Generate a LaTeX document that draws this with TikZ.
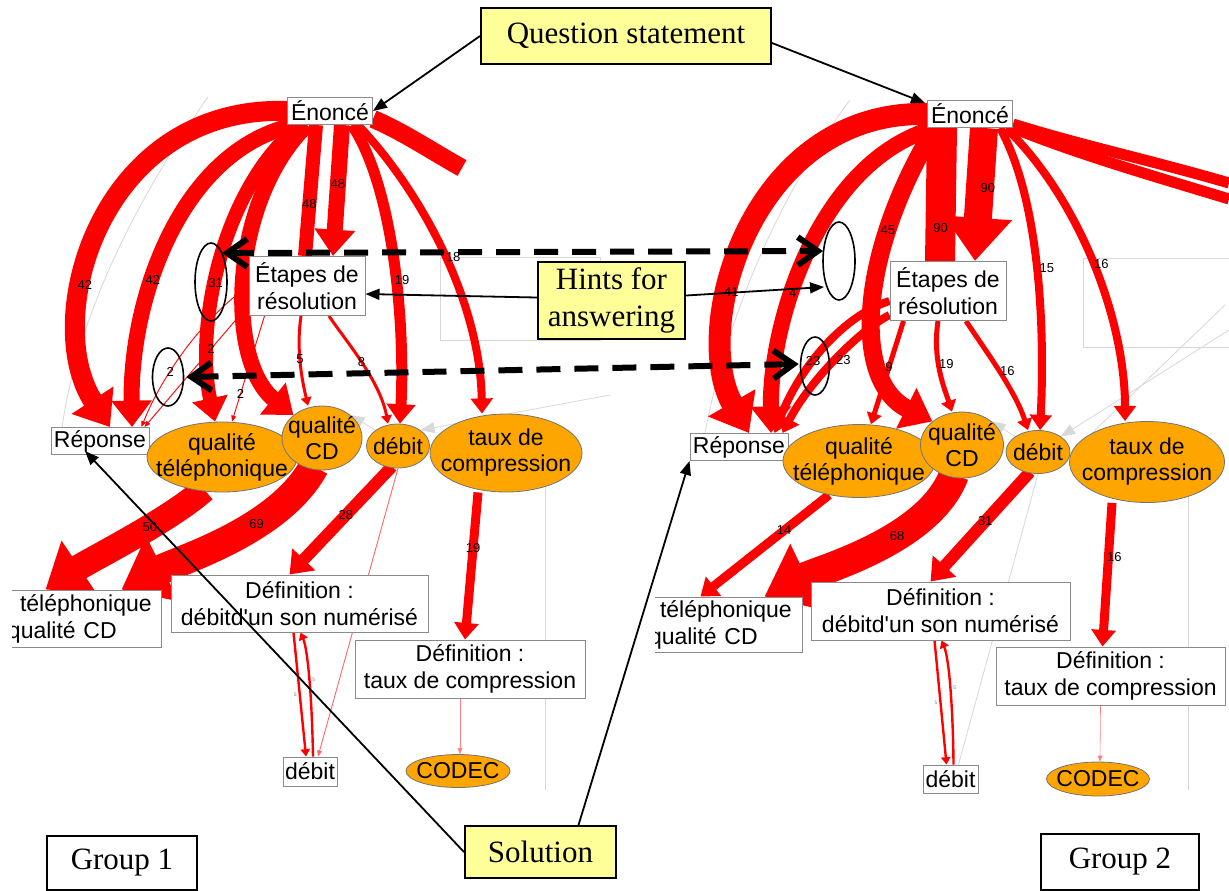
\documentclass[tikz,border=0pt]{standalone}
\usepackage{fontspec}
\setmainfont{Liberation Serif}
\setsansfont{Liberation Sans}
\usepackage{xcolor}
\definecolor{hintyellow}{HTML}{FFFF99}
\definecolor{conceptorange}{HTML}{FFA500}
\definecolor{flowred}{HTML}{FF0000}
\definecolor{boxgray}{HTML}{8A8A8A}
\definecolor{ghost}{HTML}{D8D8D8}
\usetikzlibrary{arrows.meta,positioning,calc,shapes.geometric,backgrounds}
\tikzset{
  >={Triangle[length=7pt,width=5.5pt]},
  box/.style     ={draw=boxgray,fill=white,line width=0.5pt,inner sep=1pt,
                   font=\sffamily\fontsize{11.5}{13.5}\selectfont,align=center},
  concept/.style ={ellipse,draw=black!55,fill=conceptorange,line width=0.4pt,
                   inner xsep=0pt,inner ysep=-1pt,
                   font=\sffamily\fontsize{11.5}{13}\selectfont,align=center},
  callout/.style ={draw=black,fill=hintyellow,line width=1pt,inner sep=2pt,
                   font=\fontsize{15.5}{18.5}\selectfont,align=center},
  groupbox/.style={draw=black,fill=white,line width=1pt,
                   font=\fontsize{15.5}{18.5}\selectfont},
  ring/.style    ={ellipse,draw=black,line width=0.8pt,inner sep=0pt},
  lbl/.style     ={font=\sffamily\fontsize{6.5}{6.5}\selectfont,inner sep=0.5pt},
  lbltiny/.style ={font=\sffamily\fontsize{2.5}{3}\selectfont,text=gray,inner sep=0pt},
  flow/.style    ={draw=flowred,line width=#1,-{Triangle[length=2pt 1.4,width=2pt 2.2]}},
  trail/.style   ={draw=flowred,line width=#1},
  weak/.style    ={draw=flowred,line width=0.45pt,-{Triangle[length=3pt,width=2.4pt]}},
  ghostline/.style={draw=ghost,line width=0.4pt},
  pointer/.style ={->,draw=black,line width=0.9pt},
  jump/.style    ={{Straight Barb[length=10pt,width=14pt]}-{Straight Barb[length=10pt,width=14pt]},
                   draw=black,line width=3pt,dash pattern=on 12pt off 7pt},
}
\newcommand{\tight}[1]{\makebox[0pt]{#1}}

\begin{document}
\begin{tikzpicture}[x=0.5pt,y=-0.5pt]
\useasboundingbox (0,0) rectangle (1229,890);
\begin{scope}[on background layer]
  \fill[white] (0,0) rectangle (1229,890);
\end{scope}

% group 1
\node[box,minimum width=42.5pt,minimum height=13.5pt] (enoA) at (330,111) {Énoncé};
\node[box,minimum width=58pt,minimum height=29.5pt] (etaA) at (307,286) {Étapes de\\résolution};
\node[box,minimum width=49pt,minimum height=13.5pt] (repA) at (100,441) {Réponse};
\node[concept,minimum width=75pt,minimum height=35pt] (qtA) at (222,457) {\tight{qualité}\\\tight{téléphonique}};
\node[concept,minimum width=40pt,minimum height=32pt] (qcA) at (322,438) {\tight{qualité}\\\tight{CD}};
\node[concept,minimum width=31.5pt,minimum height=22pt] (dbA) at (398,446) {\tight{débit}};
\node[concept,minimum width=76pt,minimum height=39pt] (txA) at (506,453) {\tight{taux de}\\\tight{compression}};
\begin{scope}
  \clip (12,580) rectangle (175,660);
  \node[box,align=left,inner xsep=3pt,text width=73.5pt,minimum height=28.5pt] (tcA) at (81.5,618.5)
    {\hspace*{6pt}téléphonique\\qualité CD};
\end{scope}
\node[box,minimum width=128.5pt,minimum height=28.5pt] (ddA) at (299.5,603.5) {Définition :\\débitd\textquotesingle un son numérisé};
\node[box,minimum width=115pt,minimum height=29pt] (dtA) at (470,669) {Définition :\\taux de compression};
\node[box,minimum width=27pt,minimum height=14.5pt] (dbbA) at (310,771.5) {débit};
\node[concept,minimum width=52pt,minimum height=16.5pt] (codA) at (458,771) {\tight{CODEC}};
\coordinate (offA) at (462,168);

% group 2
\node[box,minimum width=42.5pt,minimum height=13.5pt] (enoB) at (970,114) {Énoncé};
\node[box,minimum width=58pt,minimum height=29.5pt] (etaB) at (948,291) {Étapes de\\résolution};
\node[box,minimum width=49pt,minimum height=13.5pt] (repB) at (739,447) {Réponse};
\node[concept,minimum width=76pt,minimum height=36.5pt] (qtB) at (859,461) {\tight{qualité}\\\tight{téléphonique}};
\node[concept,minimum width=41.5pt,minimum height=33pt] (qcB) at (962,445) {\tight{qualité}\\\tight{CD}};
\node[concept,minimum width=32pt,minimum height=21.5pt] (dbB) at (1038,452) {\tight{débit}};
\node[concept,minimum width=77.5pt,minimum height=40.5pt] (txB) at (1147,462) {\tight{taux de}\\\tight{compression}};
\begin{scope}
  \clip (655,580) rectangle (812,665);
  \node[box,align=left,inner xsep=3pt,text width=73.5pt,minimum height=27.5pt] (tcB) at (722.5,624.5)
    {\hspace*{5.5pt}téléphonique\\qualité CD};
\end{scope}
\node[box,minimum width=129.5pt,minimum height=29pt] (ddB) at (940.5,611) {Définition :\\débitd\textquotesingle un son numérisé};
\node[box,minimum width=114.5pt,minimum height=29pt] (dtB) at (1110.5,676) {Définition :\\taux de compression};
\node[box,minimum width=27.5pt,minimum height=14pt] (dbbB) at (950.5,779) {débit};
\node[concept,minimum width=51.5pt,minimum height=17pt] (codB) at (1098,779) {\tight{CODEC}};
\coordinate (offB1) at (1229,183);
\coordinate (offB2) at (1229,199);

\begin{scope}[on background layer]
  % faint traces
  \draw[ghostline] (208,97) .. controls (150,180) and (80,300) .. (62,428);
  \draw[ghostline] (440,257) rectangle (600,340);
  \draw[ghostline] (545,478) -- (545,790);
  \draw[ghostline,->] (610,395) -- (dbA.north east);
  \draw[ghostline,->] (dbA.north west) -- (qcA.north east);
  \draw[ghostline,->] (qcA.west) -- (qtA.north east);
  \draw[ghostline] (850,100) .. controls (790,180) and (730,300) .. (705,433);
  \draw[ghostline] (1083,258) rectangle (1229,347);
  \draw[ghostline] (1188,480) -- (1188,790);
  \draw[ghostline] (1225,305) -- (txB.north west);
  \draw[ghostline,->] (1229,330) -- (dbB.north east);
  \draw[ghostline,->] (dbB.north west) -- (qcB.north east);
  \draw[ghostline,->] (qcB.west) -- (qtB.north east);

  % group 1 flows
  \draw[flow=10pt] (enoA.west) .. controls (100,105) and (40,320) .. ($(repA.north)+(10,0)$)
    node[lbl,pos=.64]{42};
  \draw[flow=8pt] ($(enoA.south west)+(8,0)$) .. controls (180,150) and (130,300) .. ($(repA.north)+(32,0)$)
    node[lbl,pos=.62]{42};
  \draw[flow=7pt] ($(enoA.south west)+(13,0)$) .. controls (220,190) and (195,330) .. ($(qtA.north)+(-7,0)$)
    node[lbl,pos=.56]{31};
  \draw[flow=8pt] ($(enoA.south west)+(20,0)$) .. controls (230,200) and (225,360) .. (qcA.north west);
  \draw[trail=7pt] ($(enoA.south)+(-14,0)$) -- ($(etaA.north)+(-2,0)$) node[lbl,pos=.6]{48};
  \draw[flow=8pt] ($(enoA.south)+(12,0)$) -- ($(etaA.north)+(26,0)$) node[lbl,pos=.45]{48};
  \draw[flow=5.5pt] ($(enoA.south)+(22,0)$) .. controls (395,190) and (405,330) .. ($(dbA.north)+(2,0)$)
    node[lbl,pos=.55,xshift=3pt]{19};
  \draw[flow=4pt] ($(enoA.south)+(28,0)$) .. controls (420,190) and (480,300) .. ($(txA.north)+(-24,0)$)
    node[lbl,pos=.52,xshift=4pt]{18};
  \draw[trail=9pt] ($(enoA.east)+(0,8)$) .. controls (400,130) and (430,150) .. (offA);
  \draw[weak] ($(etaA.west)+(0,19)$) -- ($(repA.north east)+(-5,0)$) node[lbl,pos=.36]{2};
  \draw[weak] (etaA.west) .. controls (200,320) and (160,380) .. ($(repA.north east)+(-8,0)$)
    node[lbl,pos=.63]{2};
  \draw[weak] ($(etaA.south west)+(16,0)$) -- ($(qtA.north)+(10,0)$) node[lbl,pos=.74]{2};
  \draw[flow=1.5pt] ($(etaA.south)+(-6,0)$) .. controls (296,350) and (302,380) .. ($(qcA.north)+(-14,0)$)
    node[lbl,pos=.45]{5};
  \draw[flow=1.5pt] ($(etaA.south)+(22,0)$) .. controls (345,340) and (380,380) .. ($(dbA.north)+(-10,0)$)
    node[lbl,pos=.5]{8};
  \draw[flow=13pt] ($(qtA.south)+(-18,-3)$) .. controls (170,520) and (90,560) .. ($(tcA.north)+(-36,0)$)
    node[lbl,pos=.38]{50};
  \draw[flow=15pt] ($(qcA.south)+(-8,-4)$) .. controls (280,530) and (180,560) .. ($(tcA.north)+(40,0)$)
    node[lbl,pos=.36]{69};
  \draw[flow=6pt] ($(dbA.south)+(-6,-2)$) -- ($(ddA.north)+(-10,0)$) node[lbl,pos=.45]{28};
  \draw[weak,draw=flowred!60] (dbA.south) -- ($(dbbA.north)+(8,0)$);
  \draw[flow=4.5pt] ($(txA.south)+(-28,0)$) -- ($(dtA.north)+(-5,0)$) node[lbl,pos=.38]{19};
  \draw[flow=1.2pt] ($(ddA.south)+(-6,0)$) -- ($(dbbA.north)+(-4,0)$) node[lbltiny,pos=.5,left=1pt]{5};
  \draw[flow=1.2pt] ($(dbbA.north)+(3,0)$) .. controls (312,700) and (308,650) .. ($(ddA.south)+(1,0)$)
    node[lbltiny,pos=.5,right=1pt]{5};
  \draw[weak,draw=flowred!50,line width=0.3pt] ($(dtA.south)+(-10,0)$) -- ($(codA.north)+(2,0)$);

  % group 2 flows
  \draw[flow=11pt] (enoB.west) .. controls (750,110) and (690,330) .. ($(repB.north)+(10,0)$)
    node[lbl,pos=.64]{41};
  \draw[flow=8pt] ($(enoB.south west)+(8,0)$) .. controls (820,160) and (770,320) .. ($(repB.north)+(32,0)$)
    node[lbl,pos=.62]{4};
  \draw[flow=4pt] ($(etaB.west)+(0,10)$) .. controls (845,315) and (800,365) .. ($(repB.north east)+(-14,0)$)
    node[lbl,pos=.6]{23};
  \draw[flow=4pt] ($(etaB.west)+(0,24)$) .. controls (860,330) and (810,380) .. ($(repB.north east)+(-6,0)$)
    node[lbl,pos=.5,xshift=4pt]{23};
  \draw[flow=9pt] ($(enoB.south)+(-35,0)$) .. controls (860,250) and (850,380) .. (qcB.north west)
    node[lbl,pos=.28]{45};
  \draw[trail=15pt] ($(enoB.south)+(-28,0)$) -- ($(etaB.north)+(-8,0)$) node[lbl,pos=.75]{90};
  \draw[flow=14pt] ($(enoB.south)+(14,0)$) -- ($(etaB.north)+(27,0)$) node[lbl,pos=.45,xshift=4pt]{90};
  \draw[flow=4pt] ($(enoB.south)+(30,0)$) .. controls (1040,200) and (1045,330) .. ($(dbB.north)+(2,0)$)
    node[lbl,pos=.5,xshift=5pt]{15};
  \draw[flow=4pt] ($(enoB.south)+(36,0)$) .. controls (1080,200) and (1125,320) .. ($(txB.north)+(-22,0)$)
    node[lbl,pos=.5,xshift=4pt]{16};
  \draw[trail=5.5pt] ($(enoB.east)+(0,10)$) .. controls (1080,145) and (1150,160) .. (offB1);
  \draw[trail=5.5pt] ($(enoB.east)+(0,14)$) .. controls (1080,155) and (1150,175) .. (offB2);
  \draw[flow=2.5pt] ($(etaB.south west)+(14,0)$) -- ($(qtB.north)+(12,0)$) node[lbl,pos=.45]{9};
  \draw[flow=2.5pt] ($(etaB.south)+(-10,0)$) .. controls (932,360) and (945,390) .. ($(qcB.north)+(-10,0)$)
    node[lbl,pos=.4,xshift=4pt]{19};
  \draw[flow=2.5pt] ($(etaB.south)+(18,0)$) .. controls (985,350) and (1015,390) .. ($(dbB.north)+(-10,0)$)
    node[lbl,pos=.5,xshift=4pt]{16};
  \draw[flow=4.5pt] ($(qtB.south)+(-30,-3)$) -- ($(tcB.north)+(-22,0)$) node[lbl,pos=.35]{14};
  \draw[flow=15pt] ($(qcB.south)+(-8,-4)$) .. controls (930,540) and (820,570) .. ($(tcB.north)+(42,0)$)
    node[lbl,pos=.38]{68};
  \draw[flow=6pt] ($(dbB.south)+(-8,-2)$) -- ($(ddB.north)+(-10,0)$) node[lbl,pos=.45]{31};
  \draw[ghostline] (dbB.south) -- ($(dbbB.north)+(8,0)$);
  \draw[flow=4.5pt] ($(txB.south)+(-35,0)$) -- ($(dtB.north)+(-8,0)$) node[lbl,pos=.38,xshift=3pt]{16};
  \draw[flow=1.2pt] ($(ddB.south)+(-6,0)$) -- ($(dbbB.north)+(-4,0)$) node[lbltiny,pos=.5,left=1pt]{5};
  \draw[flow=1.2pt] ($(dbbB.north)+(3,0)$) .. controls (953,708) and (949,658) .. ($(ddB.south)+(1,0)$)
    node[lbltiny,pos=.5,right=1pt]{5};
  \draw[weak,draw=flowred!50,line width=0.3pt] ($(dtB.south)+(-10,0)$) -- ($(codB.north)+(2,0)$);
\end{scope}

% hint rings
\node[ring,minimum width=16pt,minimum height=39pt] (e1) at (211,282) {};
\node[ring,minimum width=15.5pt,minimum height=29pt] (e2) at (168,377) {};
\node[ring,minimum width=16pt,minimum height=39pt] (e3) at (839,261) {};
\node[ring,minimum width=14.5pt,minimum height=29pt] (e4) at (815,366) {};
\draw[jump] ($(e1.center)+(11,-29)$) -- ($(e3.center)+(-16,-10)$);
\draw[jump] ($(e2.east)+(2,0)$) -- ($(e4.west)+(-1,-2)$);

% callouts
\node[callout,minimum width=145pt,minimum height=28pt] (qs) at (626,36) {Question statement};
\node[callout,minimum width=73.5pt,minimum height=38.5pt] (hints) at (611.5,300.5) {Hints for\\answering};
\node[callout,minimum width=75.5pt,minimum height=26pt] (sol) at (540.5,852) {Solution};
\node[groupbox,minimum width=75pt,minimum height=27pt] (g1) at (122,863) {Group 1};
\node[groupbox,minimum width=79pt,minimum height=28pt] (g2) at (1120,862) {Group 2};
\draw[pointer] (qs.west) -- (enoA.east);
\draw[pointer] ($(qs.east)+(0,7)$) -- ($(enoB.north west)+(-2,3)$);
\draw[pointer] ($(hints.west)+(0,-3)$) -- ($(etaA.east)+(0,8)$);
\draw[pointer] ($(hints.east)+(0,-5)$) -- ($(e3.center)+(-15,26)$);
\draw[pointer] (sol.west) -- ($(repA.south)+(-15,-4)$);
\draw[pointer] ($(sol.north)+(38,0)$) -- (repB.south west);
\end{tikzpicture}
\end{document}
